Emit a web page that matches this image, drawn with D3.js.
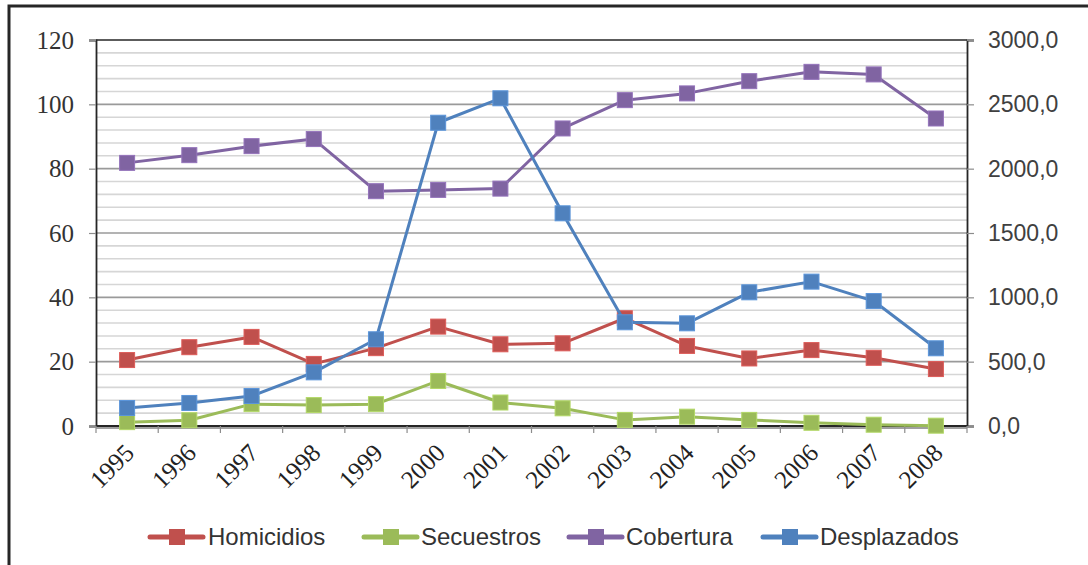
<!DOCTYPE html>
<html>
<head>
<meta charset="utf-8">
<script src="https://cdn.jsdelivr.net/npm/d3@7"></script>
<style>
  body { margin: 0; background: #fff; }
  svg { display: block; }
</style>
</head>
<body>
<div id="chart"></div>
<script>
// years and series
const years = ["1995","1996","1997","1998","1999","2000","2001","2002","2003","2004","2005","2006","2007","2008"];
const homicidios = [20.5, 24.5, 27.7, 19.3, 24.2, 30.9, 25.4, 25.7, 33.5, 24.9, 21.0, 23.6, 21.2, 17.7];
const secuestros = [1.2, 1.8, 6.8, 6.5, 6.8, 14.0, 7.3, 5.5, 1.9, 2.9, 1.9, 1.0, 0.4, 0.1];
const cobertura = [81.8, 84.2, 87.0, 89.2, 73.0, 73.4, 73.8, 92.5, 101.3, 103.4, 107.2, 110.1, 109.3, 95.6];
const desplazados = [140, 179, 233, 417, 674, 2357, 2547, 1653, 806, 798, 1039, 1122, 971, 604];
const leftTicks = [0, 20, 40, 60, 80, 100, 120];
const rightTicks = [0, 500, 1000, 1500, 2000, 2500, 3000];

const width = 1088, height = 565;
const pLeft = 96, pRight = 967, pTop = 40, pBottom = 426;

const svg = d3.select("#chart").append("svg")
    .attr("width", width)
    .attr("height", height);

// outer frame (top and left edges only show)
svg.append("path")
    .attr("d", `M9,${height} V6 H${width}`)
    .attr("fill", "none")
    .attr("stroke", "#262626")
    .attr("stroke-width", 3);

const x = d3.scaleBand().domain(years).range([pLeft, pRight]);
const yL = d3.scaleLinear().domain([0, 120]).range([pBottom, pTop]);
const yR = d3.scaleLinear().domain([0, 3000]).range([pBottom, pTop]);

// gridlines: minor every 4, major every 20
const grid = svg.append("g");
grid.selectAll("line")
    .data(d3.range(4, 120, 4))
    .enter().append("line")
    .attr("x1", pLeft).attr("x2", pRight)
    .attr("y1", d => yL(d)).attr("y2", d => yL(d))
    .attr("stroke", d => d % 20 === 0 ? "#9a9a9a" : "#d6d6d6")
    .attr("stroke-width", 1.6);

// plot frame top line
svg.append("line")
    .attr("x1", pLeft).attr("x2", pRight)
    .attr("y1", pTop).attr("y2", pTop)
    .attr("stroke", "#262626").attr("stroke-width", 1.5);

// left axis
const axL = svg.append("g")
    .attr("transform", `translate(${pLeft},0)`)
    .call(d3.axisLeft(yL).tickValues(leftTicks).tickSize(7).tickPadding(15));
axL.select(".domain").attr("stroke", "#262626").attr("stroke-width", 1.8);
axL.selectAll(".tick line").attr("stroke", "#8c8c8c").attr("stroke-width", 1.2);
axL.selectAll("text")
    .style("font-family", "'Liberation Serif', serif")
    .style("font-size", "25px")
    .attr("fill", "#333");

// right axis
const axR = svg.append("g")
    .attr("transform", `translate(${pRight},0)`)
    .call(d3.axisRight(yR).tickValues(rightTicks).tickSize(7).tickPadding(14)
        .tickFormat(d => d3.format(".1f")(d).replace(".", ",")));
axR.select(".domain").attr("stroke", "#262626").attr("stroke-width", 1.8);
axR.selectAll(".tick line").attr("stroke", "#8c8c8c").attr("stroke-width", 1.2);
axR.selectAll("text")
    .style("font-family", "'Liberation Sans', sans-serif")
    .style("font-size", "23px")
    .attr("fill", "#404040");

// bottom axis with ticks at category boundaries
svg.append("line")
    .attr("x1", pLeft).attr("x2", pRight)
    .attr("y1", pBottom + 2).attr("y2", pBottom + 2)
    .attr("stroke", "#a0a0a0").attr("stroke-width", 2);
svg.append("line")
    .attr("x1", pLeft).attr("x2", pRight)
    .attr("y1", pBottom).attr("y2", pBottom)
    .attr("stroke", "#262626").attr("stroke-width", 1.8);
svg.selectAll(".xtick")
    .data(years.concat(["end"]))
    .enter().append("line")
    .attr("class", "xtick")
    .attr("x1", d => d === "end" ? pRight : x(d))
    .attr("x2", d => d === "end" ? pRight : x(d))
    .attr("y1", pBottom).attr("y2", pBottom + 7)
    .attr("stroke", "#8c8c8c").attr("stroke-width", 1.2);

svg.selectAll(".xlabel")
    .data(years)
    .enter().append("text")
    .attr("class", "xlabel")
    .attr("transform", d => `translate(${x(d) + x.bandwidth() / 2 - 4},${pBottom + 16}) rotate(-45)`)
    .attr("text-anchor", "end")
    .attr("dy", "0.7em")
    .style("font-family", "'Liberation Serif', serif")
    .style("font-size", "25px")
    .attr("fill", "#222")
    .text(d => d);

// series
const series = [
    { name: "Homicidios", values: homicidios, y: yL, color: "#C0504D" },
    { name: "Secuestros", values: secuestros, y: yL, color: "#9BBB59" },
    { name: "Cobertura", values: cobertura, y: yL, color: "#8064A2" },
    { name: "Desplazados", values: desplazados, y: yR, color: "#4F81BD" }
];

const cx = d => x(d) + x.bandwidth() / 2;
const ms = 15;

series.forEach(function(s) {
    const pts = years.map((yr, i) => [cx(yr), s.y(s.values[i])]);
    const g = svg.append("g");
    g.append("path")
        .attr("d", d3.line()(pts))
        .attr("fill", "none")
        .attr("stroke", s.color)
        .attr("stroke-width", 3)
        .attr("stroke-linejoin", "round");
    g.selectAll("rect")
        .data(pts)
        .enter().append("rect")
        .attr("x", d => d[0] - ms / 2)
        .attr("y", d => d[1] - ms / 2)
        .attr("width", ms).attr("height", ms)
        .attr("fill", s.color)
        .attr("stroke", d3.color(s.color).brighter(0.4))
        .attr("stroke-width", 1);
});

// legend
const legendItems = [
    { x0: 150, tx: 208 },
    { x0: 364, tx: 421 },
    { x0: 569, tx: 626 },
    { x0: 763, tx: 820 }
];
const ly = 537;
series.forEach(function(s, i) {
    const li = legendItems[i];
    const g = svg.append("g");
    g.append("line")
        .attr("x1", li.x0).attr("x2", li.x0 + 53)
        .attr("y1", ly).attr("y2", ly)
        .attr("stroke", s.color).attr("stroke-width", 5)
        .attr("stroke-linecap", "round");
    g.append("rect")
        .attr("x", li.x0 + 19).attr("y", ly - 8)
        .attr("width", 16).attr("height", 16)
        .attr("fill", s.color);
    g.append("text")
        .attr("x", li.tx).attr("y", ly)
        .attr("dy", "0.35em")
        .style("font-family", "'Liberation Sans', sans-serif")
        .style("font-size", "24px")
        .attr("fill", "#333")
        .text(s.name);
});
</script>
</body>
</html>
